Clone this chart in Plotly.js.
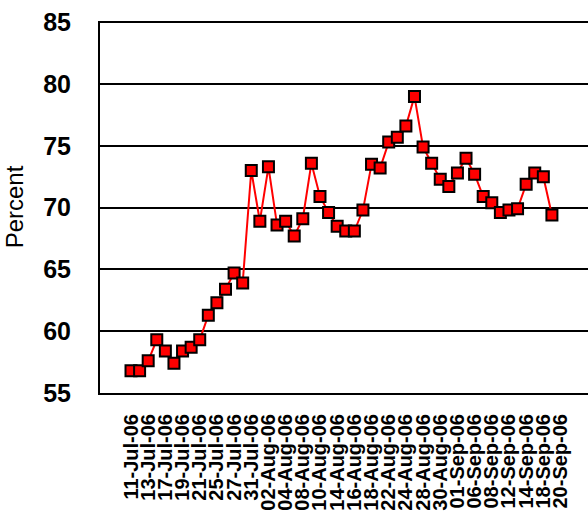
<!DOCTYPE html>
<html>
<head>
<meta charset="utf-8">
<script src="https://cdn.plot.ly/plotly-3.0.1.min.js"></script>
<style>html,body{margin:0;padding:0;background:#fff;}#chart{width:588px;height:516px;}</style>
</head>
<body>
<div id="chart"></div>
<script>
// Business days shown on the category axis
const dates = [
  "11-Jul-06","12-Jul-06","13-Jul-06","14-Jul-06","17-Jul-06","18-Jul-06","19-Jul-06","20-Jul-06","21-Jul-06",
  "24-Jul-06","25-Jul-06","26-Jul-06","27-Jul-06","28-Jul-06","31-Jul-06",
  "01-Aug-06","02-Aug-06","03-Aug-06","04-Aug-06","07-Aug-06","08-Aug-06","09-Aug-06","10-Aug-06","11-Aug-06",
  "14-Aug-06","15-Aug-06","16-Aug-06","17-Aug-06","18-Aug-06","21-Aug-06","22-Aug-06","23-Aug-06","24-Aug-06",
  "25-Aug-06","28-Aug-06","29-Aug-06","30-Aug-06","31-Aug-06",
  "01-Sep-06","05-Sep-06","06-Sep-06","07-Sep-06","08-Sep-06","11-Sep-06","12-Sep-06","13-Sep-06","14-Sep-06",
  "15-Sep-06","18-Sep-06","19-Sep-06","20-Sep-06"
];
// Percent values (last category has no point)
const percent = [
  56.8,56.8,57.6,59.3,58.4,57.4,58.4,58.7,59.3,61.3,62.3,63.4,64.7,63.9,73.0,
  68.9,73.3,68.6,68.9,67.7,69.1,73.6,70.9,69.6,68.5,68.1,68.1,69.8,73.5,73.2,
  75.3,75.7,76.6,79.0,74.9,73.6,72.3,71.7,72.8,74.0,72.7,70.9,70.4,69.6,69.8,
  69.9,71.9,72.8,72.5,69.4,null
];
// Tick labels shown (every other category)
const tickLabels = [
  "11-Jul-06","13-Jul-06","17-Jul-06","19-Jul-06","21-Jul-06","25-Jul-06","27-Jul-06","31-Jul-06",
  "02-Aug-06","04-Aug-06","08-Aug-06","10-Aug-06","14-Aug-06","16-Aug-06","18-Aug-06","22-Aug-06",
  "24-Aug-06","28-Aug-06","30-Aug-06","01-Sep-06","06-Sep-06","08-Sep-06","12-Sep-06","14-Sep-06",
  "18-Sep-06","20-Sep-06"
];
const yTicks = [55,60,65,70,75,80,85];

const trace = {
  type: "scatter",
  mode: "lines+markers",
  x: dates,
  y: percent,
  connectgaps: false,
  line: {color: "#FF0000", width: 2},
  marker: {symbol: "square", size: 11, color: "#FF0000", line: {color: "#000000", width: 2}},
  hoverinfo: "x+y"
};

const layout = {
  width: 588, height: 516,
  margin: {l: 100, r: 0, t: 21, b: 123, pad: 0},
  paper_bgcolor: "#ffffff",
  plot_bgcolor: "#ffffff",
  showlegend: false,
  font: {family: "Liberation Sans, Arial, sans-serif", color: "#000"},
  xaxis: {
    type: "category",
    categoryorder: "array",
    categoryarray: dates,
    range: [-3.61, 53.2],
    tickmode: "array",
    tickvals: tickLabels,
    ticktext: tickLabels,
    tickangle: -90,
    tickfont: {family: "Liberation Sans, Arial, sans-serif", size: 20, weight: "bold", color: "#000"},
    ticks: "",
    ticklabelstandoff: 11,
    showgrid: false,
    showline: true,
    linecolor: "#000",
    linewidth: 2,
    zeroline: false,
    fixedrange: true
  },
  yaxis: {
    range: [55, 85.1],
    tickmode: "array",
    tickvals: yTicks,
    ticktext: yTicks.map(String),
    tickfont: {family: "Liberation Sans, Arial, sans-serif", size: 25, weight: "bold", color: "#000"},
    ticks: "",
    ticklabelstandoff: 22,
    showgrid: true,
    gridcolor: "#000",
    gridwidth: 2,
    showline: true,
    linecolor: "#000",
    linewidth: 2,
    zeroline: false,
    title: {text: "Percent", font: {family: "Liberation Sans, Arial, sans-serif", size: 24, color: "#000"}, standoff: 13},
    fixedrange: true
  }
};

Plotly.newPlot("chart", [trace], layout, {displayModeBar: false, staticPlot: true});
</script>
</body>
</html>
